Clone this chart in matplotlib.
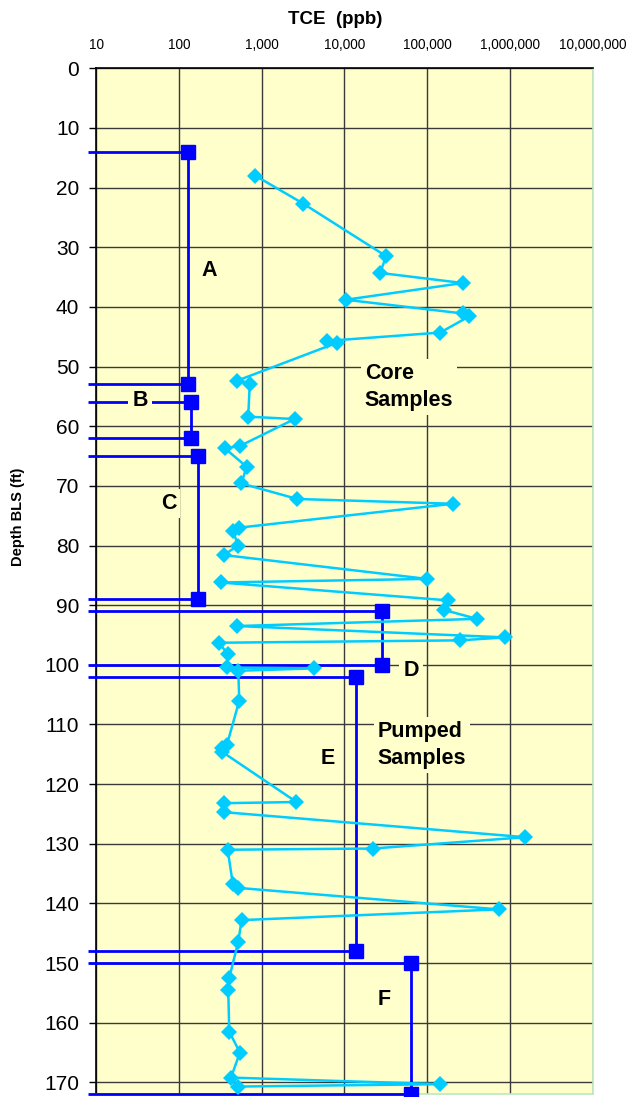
import matplotlib
matplotlib.use("Agg")
import matplotlib.pyplot as plt
import numpy as np

plt.rcParams['font.family'] = ['Liberation Sans', 'DejaVu Sans']

# ---- Data ----
# Core samples (TCE ppb, depth ft)
core_tce = [840, 3200, 32000, 27000, 270000, 10400, 270000, 320000, 144000,
            6200, 8200, 500, 720, 690, 2500, 550, 360, 660, 570, 2700,
            205000, 540, 450, 520, 350, 100000, 320, 180000, 160000, 400000,
            510, 880000, 250000, 306, 390, 380, 4300, 523, 538, 380,
            330, 335, 2640, 350, 350, 1540000, 22000, 390, 450, 523,
            735000, 574, 523, 407, 396, 407, 548, 427, 142900, 523]
core_depth = [18.0, 22.7, 31.5, 34.3, 36.0, 38.8, 41.1, 41.6, 44.3,
              45.7, 46.0, 52.4, 52.9, 58.4, 58.8, 63.3, 63.7, 66.8, 69.6, 72.2,
              73.0, 77.0, 77.5, 80.0, 81.6, 85.6, 86.2, 89.2, 90.8, 92.3,
              93.5, 95.4, 95.9, 96.3, 98.2, 100.45, 100.6, 101.0, 106.0, 113.5,
              114.0, 114.6, 123.0, 123.2, 124.7, 128.9, 130.8, 131.0, 136.8, 137.4,
              141.0, 142.8, 146.4, 152.5, 154.5, 161.5, 165.0, 169.2, 170.3, 170.7]

# Pumped samples: intervals A-F
pump_names = ['A', 'B', 'C', 'D', 'E', 'F']
pump_tce = [128, 139, 169, 28700, 13900, 63800]
pump_top = [14, 56, 65, 91, 102, 150]
pump_bottom = [53, 62, 89, 100, 148, 172]

x_ticks = [10, 100, 1000, 10000, 100000, 1000000, 10000000]
x_labels = ['10', '100', '1,000', '10,000', '100,000', '1,000,000', '10,000,000']
y_ticks = list(range(0, 171, 10))

# ---- Figure ----
W, H = 632, 1097
fig = plt.figure(figsize=(W / 100, H / 100), dpi=100)
left, right, top, bottom = 96, 592.7, 68.3, 1094.3
ax = fig.add_axes([left / W, 1 - bottom / H, (right - left) / W, (bottom - top) / H])

bg = '#FFFFCC'
ax.set_facecolor(bg)
ax.set_xscale('log')
ax.set_xlim(10, 1e7)
ax.set_ylim(172, 0)

ax.xaxis.set_ticks_position('top')
ax.set_xticks(x_ticks)
ax.set_xticklabels(x_labels)
ax.xaxis.set_minor_locator(matplotlib.ticker.NullLocator())
ax.tick_params(axis='x', which='both', length=0, pad=11.5, labelsize=9.8, top=True, bottom=False,
               labeltop=True, labelbottom=False)

ax.set_yticks(y_ticks)
ax.tick_params(axis='y', length=5, width=1, pad=7, labelsize=15, direction='out')

ax.grid(True, which='major', color='#3a3a3a', linewidth=1.0, zorder=0)
ax.set_axisbelow(True)

for s in ['left', 'top']:
    ax.spines[s].set_color('black')
    ax.spines[s].set_linewidth(1.2)
for s in ['right', 'bottom']:
    ax.spines[s].set_color('#BDE8C0')
    ax.spines[s].set_linewidth(1.2)

blue = '#0000FF'
cyan = '#00CCFF'

# Pumped samples: horizontal lines from left edge, vertical at value
x_left = 10 ** (1 - 8 / 82.8)
for v, t, b in zip(pump_tce, pump_top, pump_bottom):
    ax.plot([x_left, v, v, x_left], [t, t, b, b], color=blue, linewidth=2.0,
            clip_on=False, zorder=3, solid_capstyle='butt')
    ax.plot([v, v], [t, b], linestyle='none', marker='s', markersize=10.5,
            color=blue, clip_on=False, zorder=4)

# Core samples
ax.plot(core_tce, core_depth, color=cyan, linewidth=1.8, marker='D', markersize=8,
        markeredgewidth=0, zorder=5, clip_on=False)

# Labels
box = dict(facecolor=bg, edgecolor='none', pad=3)
lab = dict(fontsize=15.5, fontweight='bold', color='black', zorder=6, bbox=box)
ax.text(231, 33.9, 'A', ha='center', va='center', **lab)
ax.text(34, 55.7, 'B', ha='center', va='center', **lab)
ax.text(75, 73.0, 'C', ha='center', va='center', **lab)
ax.text(64400, 100.9, 'D', ha='center', va='center', **lab)
ax.text(6250, 115.7, 'E', ha='center', va='center', **lab)
ax.text(30000, 156.1, 'F', ha='center', va='center', **lab)
ax.text(17700, 53.4, 'Core\nSamples', ha='left', va='center', linespacing=1.35, **lab)
ax.text(25400, 113.4, 'Pumped\nSamples', ha='left', va='center', linespacing=1.35, **lab)

fig.text(335 / W, 1 - 19 / H, 'TCE  (ppb)', ha='center', va='center', fontsize=13.5,
         fontweight='bold')
fig.text(18.3 / W, 1 - 517 / H, 'Depth BLS (ft)', ha='center', va='center', rotation=90,
         fontsize=10.5, fontweight='bold')

fig.savefig('out.png', dpi=100, facecolor='white')
